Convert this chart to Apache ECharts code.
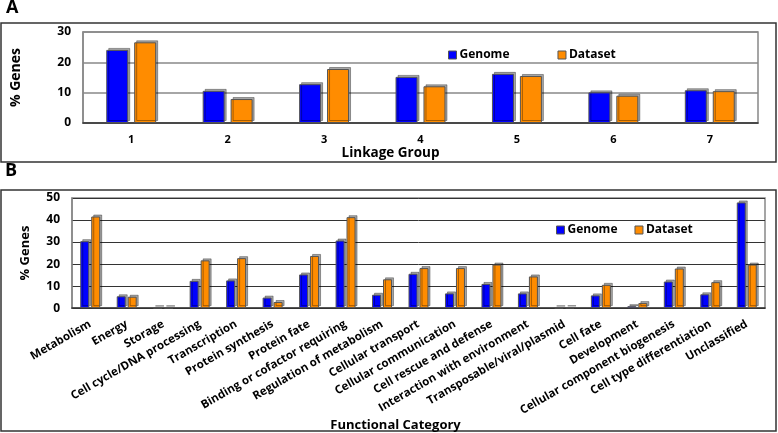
<!DOCTYPE html>
<html><head><meta charset="utf-8">
<script src="https://cdn.jsdelivr.net/npm/echarts@6/dist/echarts.min.js"></script>
<style>html,body{margin:0;padding:0;background:#fff}#c{width:778px;height:433px}</style>
</head><body><div id="c"></div>
<script>
const linkageGroups = ['1','2','3','4','5','6','7'];
const genomeA = [24.1, 10.6, 12.8, 15.2, 16.2, 10.1, 10.8];
const datasetA = [26.6, 7.9, 17.8, 12.1, 15.5, 9.0, 10.5];
const categories = ['Metabolism','Energy','Storage','Cell cycle/DNA processing','Transcription','Protein synthesis','Protein fate','Binding or cofactor requiring','Regulation of metabolism','Cellular transport','Cellular communication','Cell rescue and defense','Interaction with environment','Transposable/viral/plasmid','Cell fate','Development','Cellular component biogenesis','Cell type differentiation','Unclassified'];
const genomeB = [30.4, 5.4, 0.2, 12.4, 12.6, 4.8, 15.3, 30.7, 6.1, 15.6, 6.7, 11.0, 6.7, 0.2, 5.8, 0.9, 12.1, 6.3, 48.0];
const datasetB = [41.6, 5.2, 0.2, 21.7, 22.7, 2.8, 23.7, 41.3, 13.1, 18.2, 18.2, 19.8, 14.4, 0.3, 10.6, 2.3, 18.0, 11.8, 19.8];
const ticksA = [0, 10, 20, 30];
const ticksB = [0, 10, 20, 30, 40, 50];

const FONT = 'Open Sans';
const BLUE = '#0000FF', ORANGE = '#FF8C00';
const barStyle = (c) => ({color: c, borderColor: '#555', borderWidth: 1, shadowColor: 'rgba(0,0,0,0.35)', shadowOffsetX: 2, shadowOffsetY: -2, shadowBlur: 0});
const chart = echarts.init(document.getElementById('c'));
chart.setOption({
  animation: false,
  textStyle: {fontFamily: FONT},
  graphic: [
    {type: 'rect', shape: {x: 1, y: 23, width: 775, height: 139}, style: {fill: 'none', stroke: '#333', lineWidth: 1.5}},
    {type: 'rect', shape: {x: 1, y: 190, width: 775, height: 241}, style: {fill: 'none', stroke: '#333', lineWidth: 1.5}},
    {type: 'text', left: 6, top: -1, style: {text: 'A', font: 'bold 18px ' + FONT, fill: '#000'}},
    {type: 'text', left: 5, top: 162, style: {text: 'B', font: 'bold 18px ' + FONT, fill: '#000'}}
  ],
  legend: [
    {left: 443, top: 44, itemWidth: 8, itemHeight: 8, itemGap: 48, icon: 'rect',
     data: ['Genome', 'Dataset'], textStyle: {fontFamily: FONT, fontWeight: 'bold', fontSize: 12, color: '#000', padding: [0,0,0,-2]},
     itemStyle: {borderColor: '#555', borderWidth: 1}},
    {left: 551, top: 219, itemWidth: 8, itemHeight: 8, itemGap: 17, icon: 'rect',
     data: [{name: 'Genome2', itemStyle: {color: BLUE}}, {name: 'Dataset2', itemStyle: {color: ORANGE}}],
     formatter: n => n.replace('2', ''),
     textStyle: {fontFamily: FONT, fontWeight: 'bold', fontSize: 12, color: '#000', padding: [0,0,0,-2]},
     itemStyle: {borderColor: '#555', borderWidth: 1}}
  ],
  grid: [
    {left: 83, right: 20, top: 32, height: 91, show: true, borderColor: '#888', borderWidth: 1.5, containLabel: false},
    {left: 72, right: 13, top: 198, height: 114, show: true, borderColor: '#888', borderWidth: 1.5, containLabel: false}
  ],
  xAxis: [
    {type: 'category', gridIndex: 0, data: linkageGroups,
     axisLine: {lineStyle: {color: '#333', width: 1.5}}, axisTick: {show: false},
     axisLabel: {fontFamily: FONT, fontWeight: 'bold', fontSize: 11, color: '#000', margin: 11},
     name: 'Linkage Group', nameLocation: 'middle', nameGap: 23,
     nameTextStyle: {fontFamily: FONT, fontWeight: 'bold', fontSize: 13.5, color: '#000', padding: [0, 60, 0, 0]}},
    {type: 'category', gridIndex: 1, data: categories,
     axisLine: {lineStyle: {color: '#333', width: 1.5}}, axisTick: {show: false},
     axisLabel: {fontFamily: FONT, fontWeight: 'bold', fontSize: 11.5, color: '#000', margin: 15, rotate: 30, interval: 0},
     name: 'Functional Category', nameLocation: 'middle', nameGap: 104,
     nameTextStyle: {fontFamily: FONT, fontWeight: 'bold', fontSize: 13, color: '#000', padding: [0, 46, 0, 0]}}
  ],
  yAxis: [
    {type: 'value', gridIndex: 0, min: ticksA[0], max: ticksA[ticksA.length-1], interval: 10,
     axisLine: {show: true, lineStyle: {color: '#888', width: 1.5}}, axisTick: {show: false},
     splitLine: {lineStyle: {color: '#888', width: 1.5}},
     axisLabel: {fontFamily: FONT, fontWeight: 'bold', fontSize: 12, color: '#000', margin: 12},
     name: '% Genes', nameLocation: 'middle', nameGap: 60,
     nameTextStyle: {fontFamily: FONT, fontWeight: 'bold', fontSize: 14, color: '#000'}},
    {type: 'value', gridIndex: 1, min: ticksB[0], max: ticksB[ticksB.length-1], interval: 10,
     axisLine: {show: true, lineStyle: {color: '#888', width: 1.5}}, axisTick: {show: false},
     splitLine: {lineStyle: {color: '#333', width: 1}},
     axisLabel: {fontFamily: FONT, fontWeight: 'bold', fontSize: 12, color: '#000', margin: 12},
     name: '% Genes', nameLocation: 'middle', nameGap: 40,
     nameTextStyle: {fontFamily: FONT, fontWeight: 'bold', fontSize: 13, color: '#000'}}
  ],
  series: [
    {name: 'Genome', type: 'bar', xAxisIndex: 0, yAxisIndex: 0, data: genomeA, barWidth: 22, barGap: '27%', itemStyle: barStyle(BLUE)},
    {name: 'Dataset', type: 'bar', xAxisIndex: 0, yAxisIndex: 0, data: datasetA, barWidth: 22, barGap: '27%', itemStyle: barStyle(ORANGE)},
    {name: 'Genome2', type: 'bar', xAxisIndex: 1, yAxisIndex: 1, data: genomeB, barWidth: 9, barGap: '22%', itemStyle: barStyle(BLUE)},
    {name: 'Dataset2', type: 'bar', xAxisIndex: 1, yAxisIndex: 1, data: datasetB, barWidth: 9, barGap: '22%', itemStyle: barStyle(ORANGE)}
  ]
});
</script></body></html>
